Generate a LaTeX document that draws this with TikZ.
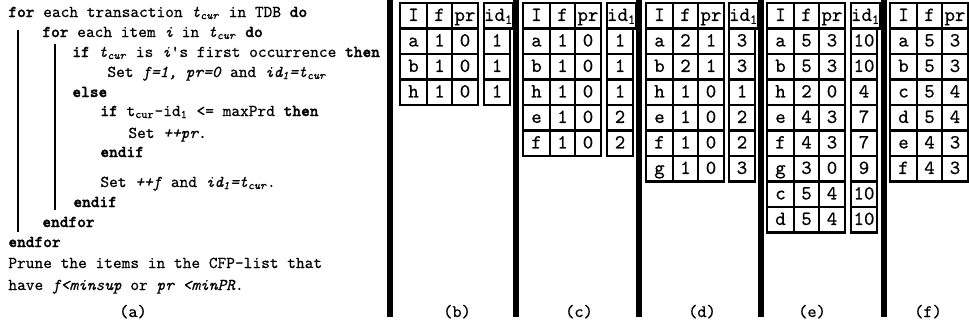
\documentclass[tikz,border=0pt]{standalone}
\usepackage{fontspec}
\setmonofont{lmmono10-regular.otf}[BoldFont=lmmonolt10-bold.otf, ItalicFont=lmmono10-italic.otf, BoldItalicFont=lmmonolt10-boldoblique.otf, UprightFeatures={FakeBold=0.4}, ItalicFeatures={FakeBold=0.4}, BoldFeatures={FakeBold=1.6}]
\begin{document}
\tikzset{
  cell/.style={draw, line width=1.4pt, inner sep=0pt, outer sep=0pt,
    minimum height=12.75pt, anchor=north west,
    font=\fontsize{10}{11}\selectfont\ttfamily, text height=6.8pt, text depth=1.6pt},
  sepline/.style={line width=2.7pt},
  code/.style={anchor=base west, inner sep=0pt, font=\fontsize{8.3}{10}\selectfont\ttfamily},
  lbl/.style={anchor=base, inner sep=0pt, font=\fontsize{8.8}{10}\selectfont\ttfamily},
  bar/.style={line width=1pt},
}
\newcommand\tabthree[3]{%
  \foreach [count=\r from 0] \ci/\cf/\cp in {#3} {
    \node[cell, minimum width=13.5pt] (#1-\r-i) at (#2,{3+25.5*\r}) {\ci};
    \node[cell, minimum width=12.5pt] (#1-\r-f) at (#1-\r-i.north east) {\cf};
    \node[cell, minimum width=13pt] (#1-\r-p) at (#1-\r-f.north east) {\cp};
  }}
\newcommand\tabid[3]{%
  \foreach [count=\r from 0] \cd in {#3} {
    \node[cell, minimum width=13pt] (#1-\r-d) at (#2,{3+25.5*\r}) {\cd};
  }}
\newcommand\sbt[1]{\textsubscript{#1}}
\begin{tikzpicture}[x=0.5pt,y=-0.5pt]
\useasboundingbox (0,0) rectangle (969,329);
% pseudocode
\node[code] (l1) at (8,17) {\textbf{for} each transaction \textit{t}\sbt{\textit{cur}} in TDB \textbf{do}};
\node[code] (l2) at (42,37) {\textbf{for} each item \textit{i} in \textit{t}\sbt{\textit{cur}} \textbf{do}};
\node[code] (l3) at (72,57) {\textbf{if} \textit{t}\sbt{\textit{cur}} is \textit{i}'s first occurrence \textbf{then}};
\node[code] (l4) at (107,77) {Set \textit{f=1, pr=0} and \textit{id\sbt{1}=t\sbt{cur}}};
\node[code] (l5) at (72,97) {\textbf{else}};
\node[code] (l6) at (100,116) {\textbf{if} t\sbt{cur}-id\sbt{1} <= maxPrd \textbf{then}};
\node[code] (l7) at (128,138) {Set \textit{++pr}.};
\node[code] (l8) at (100,157) {\textbf{endif}};
\node[code] (l9) at (100,187) {Set \textit{++f} and \textit{id\sbt{1}=t\sbt{cur}}.};
\node[code] (l10) at (73,207) {\textbf{endif}};
\node[code] (l11) at (42,227) {\textbf{endfor}};
\node[code] (l12) at (8,247) {\textbf{endfor}};
\node[code] (l13) at (8,268) {Prune the items in the CFP-list that};
\node[code] (l14) at (8,290) {have \textit{f<minsup} or \textit{pr <minPR}.};
\coordinate (o1) at (18,30); \coordinate (o2) at (18,232);
\coordinate (i1) at (55,44); \coordinate (i2) at (55,210);
\draw[bar] (o1) -- (o2);
\draw[bar] (i1) -- (i2);
% separators
\foreach \x [count=\k] in {390,516,639,761,884} {
  \coordinate (s\k t) at (\x,0); \coordinate (s\k b) at (\x,317);
  \draw[sepline] (s\k t) -- (s\k b);
}
% tables
\tabthree{b}{400}{I/f/pr, a/1/0, b/1/0, h/1/0}
\tabid{b}{484}{id\sbt{1}, 1, 1, 1}
\tabthree{c}{523}{I/f/pr, a/1/0, b/1/0, h/1/0, e/1/0, f/1/0}
\tabid{c}{607}{id\sbt{1}, 1, 1, 1, 2, 2}
\tabthree{d}{646}{I/f/pr, a/2/1, b/2/1, h/1/0, e/1/0, f/1/0, g/1/0}
\tabid{d}{729}{id\sbt{1}, 3, 3, 1, 2, 2, 3}
\tabthree{e}{767}{I/f/pr, a/5/3, b/5/3, h/2/0, e/4/3, f/4/3, g/3/0, c/5/4, d/5/4}
\tabid{e}{851}{id\sbt{1}, 10, 10, 4, 7, 7, 9, 10, 10}
\tabthree{f}{890}{I/f/pr, a/5/3, b/5/3, c/5/4, d/5/4, e/4/3, f/4/3}
% labels
\node[lbl] (la) at (133,317) {(a)};
\node[lbl] (lb) at (457,317) {(b)};
\node[lbl] (lc) at (579,317) {(c)};
\node[lbl] (ld) at (702,317) {(d)};
\node[lbl] (le) at (812,317) {(e)};
\node[lbl] (lf) at (928,317) {(f)};
\end{tikzpicture}
\end{document}
